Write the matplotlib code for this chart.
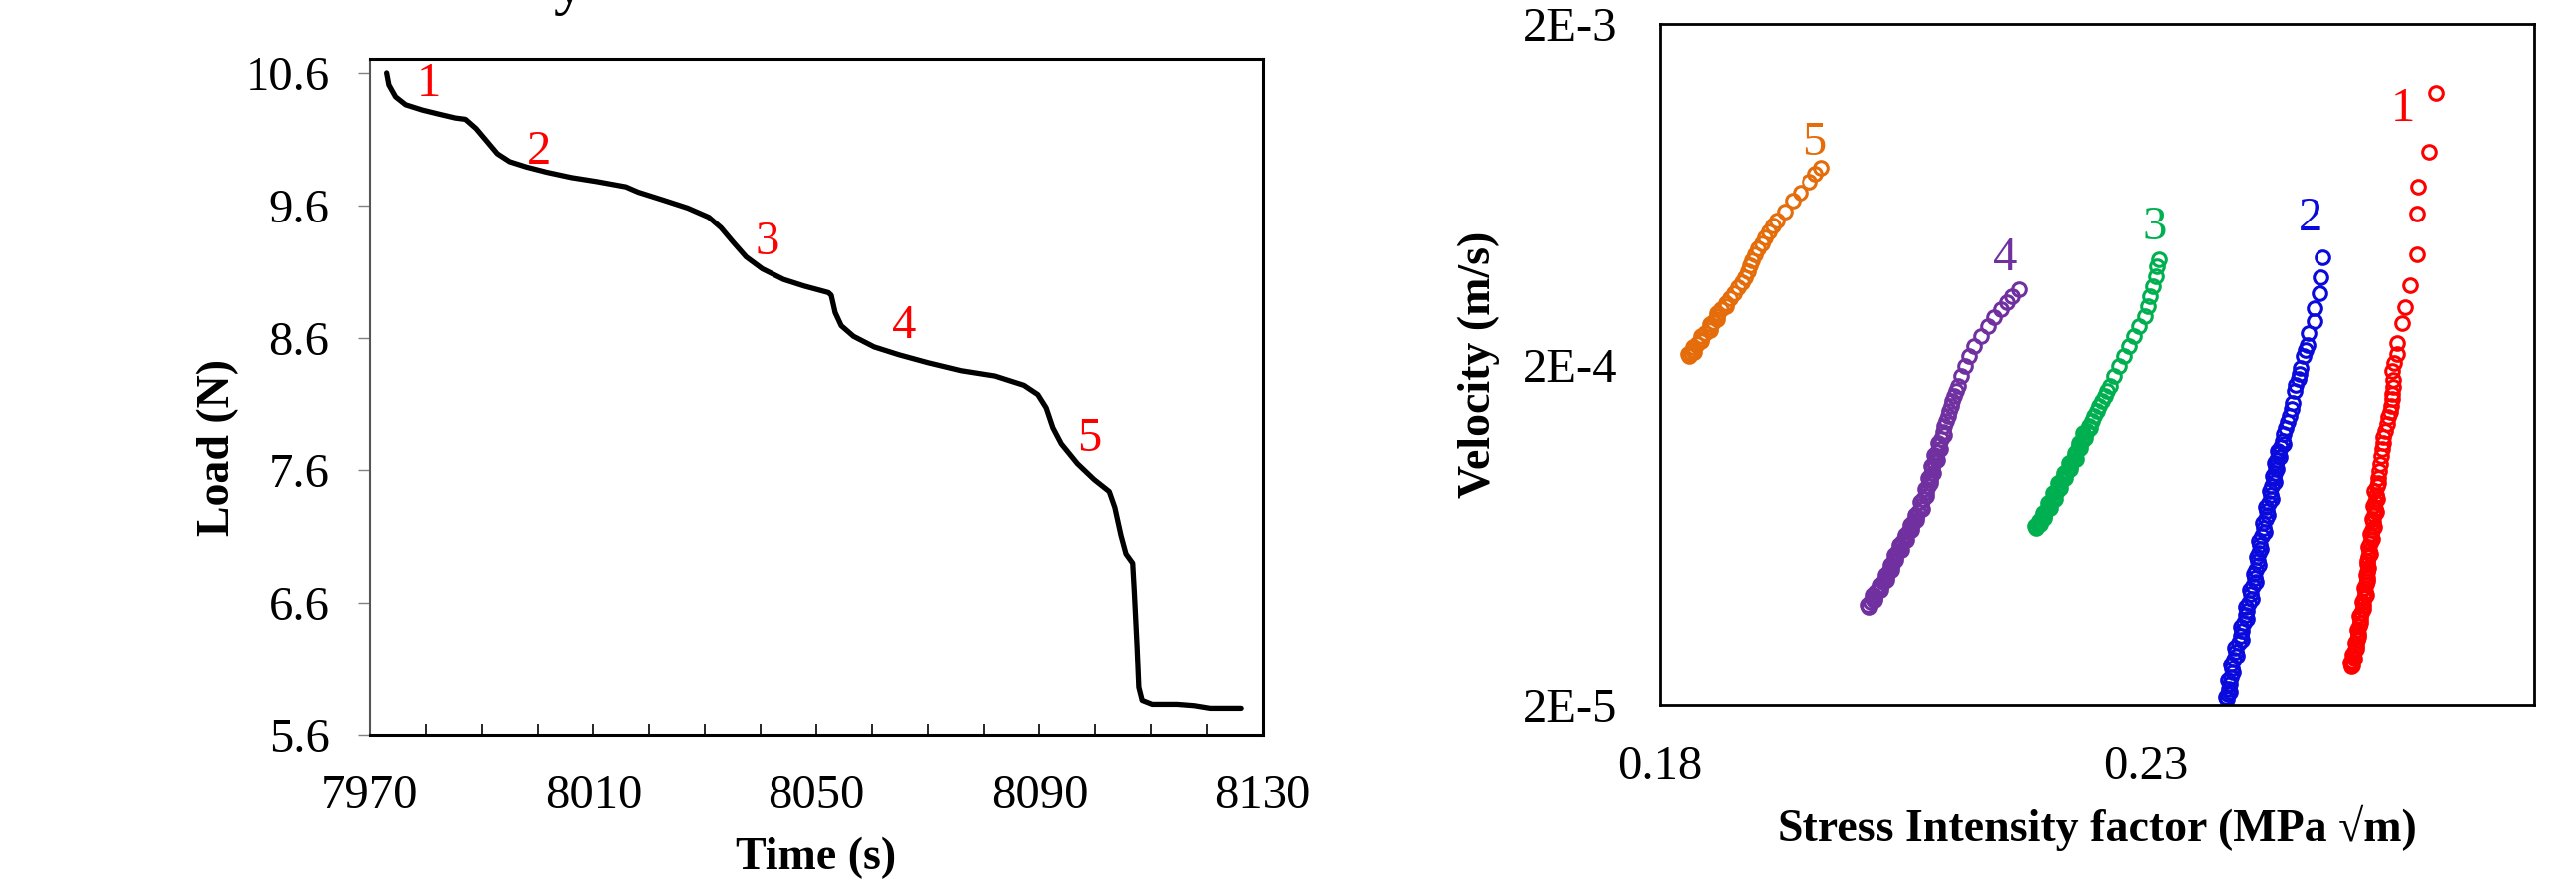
import matplotlib
matplotlib.use("Agg")
import matplotlib.pyplot as plt
from matplotlib.ticker import FixedLocator, MultipleLocator, NullLocator

plt.rcParams['font.family'] = ['Liberation Serif', 'DejaVu Serif']

# ---- left panel: load vs time
time_s = [7973.0, 7973.4, 7974.6, 7976.4, 7979.4, 7982.3, 7985.3, 7987.1, 7989.0,
          7991.0, 7992.8, 7995.0, 7998.0, 8001.7, 8006.1, 8010.6, 8015.8, 8018.0,
          8022.5, 8026.9, 8030.7, 8032.9, 8035.1, 8037.4, 8040.3, 8044.1, 8047.8,
          8052.2, 8052.7, 8053.4, 8054.5, 8056.7, 8060.4, 8064.9, 8070.1, 8076.0,
          8082.0, 8087.2, 8089.7, 8091.2, 8092.4, 8093.9, 8096.8, 8099.8, 8102.5,
          8103.5, 8104.6, 8105.5, 8106.7, 8107.0, 8107.5, 8107.8, 8108.4, 8110.2,
          8114.7, 8117.7, 8120.6, 8126.1]
load_n = [10.60, 10.51, 10.42, 10.36, 10.32, 10.29, 10.26, 10.25, 10.18,
          10.08, 9.99, 9.93, 9.89, 9.85, 9.81, 9.78, 9.74, 9.70,
          9.64, 9.58, 9.51, 9.43, 9.32, 9.21, 9.12, 9.04, 8.99,
          8.94, 8.92, 8.79, 8.69, 8.61, 8.53, 8.47, 8.41, 8.35,
          8.31, 8.24, 8.17, 8.07, 7.92, 7.80, 7.65, 7.53, 7.44,
          7.32, 7.11, 6.97, 6.90, 6.68, 6.26, 5.96, 5.86, 5.83,
          5.83, 5.82, 5.80, 5.80]
load_ticks = [5.6, 6.6, 7.6, 8.6, 9.6, 10.6]
time_ticks = [7970, 8010, 8050, 8090, 8130]

# ---- right panel: velocity vs stress intensity factor, five stages
k1 = [0.2599, 0.2592, 0.2581, 0.2580, 0.2580, 0.2573, 0.2568, 0.2564, 0.2559, 0.2559,
      0.2556, 0.2554, 0.2555, 0.2555, 0.2554, 0.2554, 0.2553, 0.2552, 0.2550, 0.2549,
      0.2547, 0.2545, 0.2545, 0.2544, 0.2543, 0.2542, 0.2541, 0.2540, 0.2539, 0.2538,
      0.2537, 0.2537, 0.2536, 0.2535, 0.2534, 0.2533, 0.2532, 0.2531, 0.2530, 0.2529,
      0.2529, 0.2528, 0.2527, 0.2526, 0.2525, 0.2524, 0.2522, 0.2521, 0.2520, 0.2519,
      0.2518, 0.2517, 0.2515, 0.2514, 0.2513, 0.2512, 0.2512]
v1 = [1.26e-3, 8.43e-4, 6.65e-4, 5.57e-4, 4.21e-4, 3.42e-4, 2.94e-4, 2.65e-4, 2.31e-4, 2.14e-4,
      2.02e-4, 1.92e-4, 1.80e-4, 1.72e-4, 1.64e-4, 1.58e-4, 1.51e-4, 1.455e-4, 1.40e-4, 1.34e-4,
      1.28e-4, 1.23e-4, 1.18e-4, 1.13e-4, 1.08e-4, 1.026e-4, 9.75e-5, 9.29e-5, 8.80e-5, 8.32e-5,
      7.90e-5, 7.55e-5, 7.23e-5, 6.90e-5, 6.55e-5, 6.28e-5, 6.00e-5, 5.70e-5, 5.46e-5, 5.20e-5,
      4.95e-5, 4.75e-5, 4.55e-5, 4.32e-5, 4.13e-5, 3.95e-5, 3.75e-5, 3.59e-5, 3.42e-5, 3.26e-5,
      3.12e-5, 3.00e-5, 2.88e-5, 2.79e-5, 2.70e-5, 2.64e-5, 2.60e-5]
# more readings from the crowded lower part of stage 1
k1_low = [0.2540, 0.2536, 0.2539, 0.2535, 0.2538, 0.2534, 0.2536, 0.2532, 0.2534, 0.2530,
          0.2532, 0.2528, 0.2530, 0.2527, 0.2529, 0.2525, 0.2527, 0.2523, 0.2524, 0.2520,
          0.2521, 0.2518, 0.2519, 0.2516, 0.2517, 0.2513, 0.2515, 0.2511, 0.2513]
v1_low = [9.0e-5, 8.55e-5, 8.05e-5, 7.7e-5, 7.4e-5, 7.05e-5, 6.7e-5, 6.4e-5, 6.15e-5, 5.85e-5,
          5.58e-5, 5.33e-5, 5.08e-5, 4.85e-5, 4.65e-5, 4.43e-5, 4.22e-5, 4.04e-5, 3.85e-5, 3.67e-5,
          3.50e-5, 3.34e-5, 3.19e-5, 3.06e-5, 2.94e-5, 2.83e-5, 2.75e-5, 2.67e-5, 2.62e-5]

k2 = [0.2482, 0.2480, 0.2479, 0.2474, 0.2474, 0.2468, 0.2467, 0.2465, 0.2463, 0.2460,
      0.2459, 0.2458, 0.2455, 0.2453, 0.2451, 0.2450, 0.2448, 0.2446, 0.2444, 0.2442,
      0.2441, 0.2439, 0.2437, 0.2435, 0.2434, 0.2433, 0.2432, 0.2430, 0.2429, 0.2427,
      0.2425, 0.2424, 0.2422, 0.2420, 0.2418, 0.2417, 0.2415, 0.2413, 0.2412, 0.2410,
      0.2408, 0.2406, 0.2404, 0.2403, 0.2401, 0.2399, 0.2398, 0.2396, 0.2393, 0.2391,
      0.2389, 0.2388, 0.2387, 0.2386, 0.2385, 0.2384]
v2 = [4.13e-4, 3.61e-4, 3.23e-4, 2.93e-4, 2.69e-4, 2.47e-4, 2.28e-4, 2.20e-4, 2.12e-4, 1.95e-4,
      1.88e-4, 1.82e-4, 1.74e-4, 1.67e-4, 1.54e-4, 1.48e-4, 1.415e-4, 1.36e-4, 1.30e-4, 1.25e-4,
      1.196e-4, 1.15e-4, 1.10e-4, 1.05e-4, 1.01e-4, 9.65e-5, 9.29e-5, 8.80e-5, 8.32e-5, 7.85e-5,
      7.43e-5, 7.05e-5, 6.65e-5, 6.28e-5, 5.94e-5, 5.62e-5, 5.31e-5, 5.02e-5, 4.75e-5, 4.50e-5,
      4.25e-5, 4.00e-5, 3.80e-5, 3.69e-5, 3.50e-5, 3.32e-5, 3.21e-5, 3.05e-5, 2.87e-5, 2.72e-5,
      2.57e-5, 2.42e-5, 2.30e-5, 2.23e-5, 2.15e-5, 2.08e-5]
k2_low = [0.2442, 0.2436, 0.2438, 0.2433, 0.2435, 0.2431, 0.2433, 0.2428, 0.2430, 0.2424,
          0.2426, 0.2421, 0.2423, 0.2417, 0.2419, 0.2414, 0.2416, 0.2411, 0.2413, 0.2407,
          0.2409, 0.2403, 0.2404, 0.2398, 0.2399, 0.2392, 0.2394, 0.2388, 0.2390, 0.2385,
          0.2387, 0.2383]
v2_low = [1.17e-4, 1.12e-4, 1.07e-4, 1.03e-4, 9.9e-5, 9.45e-5, 9.05e-5, 8.55e-5, 8.1e-5, 7.65e-5,
          7.25e-5, 6.85e-5, 6.45e-5, 6.1e-5, 5.78e-5, 5.46e-5, 5.16e-5, 4.88e-5, 4.62e-5, 4.38e-5,
          4.12e-5, 3.90e-5, 3.60e-5, 3.40e-5, 3.13e-5, 2.96e-5, 2.80e-5, 2.64e-5, 2.50e-5, 2.36e-5,
          2.19e-5, 2.11e-5]

k3 = [0.2314, 0.2312, 0.2311, 0.2308, 0.2305, 0.2302, 0.2299, 0.2293, 0.2288, 0.2283,
      0.2278, 0.2273, 0.2268, 0.2263, 0.2260, 0.2258, 0.2255, 0.2252, 0.2250, 0.2247,
      0.2245, 0.2242, 0.2240, 0.2237, 0.2235, 0.2232, 0.2230, 0.2227, 0.2224, 0.2222,
      0.2219, 0.2216, 0.2214, 0.2211, 0.2209, 0.2206, 0.2204, 0.2201, 0.2198, 0.2196,
      0.2193, 0.2191, 0.2189, 0.2187]
v3 = [4.07e-4, 3.89e-4, 3.64e-4, 3.40e-4, 3.18e-4, 2.97e-4, 2.78e-4, 2.60e-4, 2.43e-4, 2.27e-4,
      2.12e-4, 1.98e-4, 1.85e-4, 1.73e-4, 1.67e-4, 1.62e-4, 1.56e-4, 1.515e-4, 1.46e-4, 1.416e-4,
      1.37e-4, 1.32e-4, 1.28e-4, 1.237e-4, 1.195e-4, 1.156e-4, 1.12e-4, 1.08e-4, 1.045e-4, 1.01e-4,
      9.75e-5, 9.45e-5, 9.15e-5, 8.83e-5, 8.55e-5, 8.25e-5, 7.98e-5, 7.72e-5, 7.45e-5, 7.21e-5,
      7.05e-5, 6.90e-5, 6.78e-5, 6.65e-5]
k3_low = [0.2243, 0.2236, 0.2238, 0.2232, 0.2233, 0.2227, 0.2228, 0.2221, 0.2222, 0.2216,
          0.2217, 0.2210, 0.2212, 0.2205, 0.2207, 0.2200, 0.2202, 0.2195, 0.2196, 0.2190,
          0.2192, 0.2186]
v3_low = [1.30e-4, 1.26e-4, 1.22e-4, 1.175e-4, 1.14e-4, 1.10e-4, 1.06e-4, 1.03e-4, 9.9e-5, 9.6e-5,
          9.3e-5, 9.0e-5, 8.7e-5, 8.4e-5, 8.1e-5, 7.85e-5, 7.58e-5, 7.33e-5, 7.12e-5, 6.98e-5,
          6.84e-5, 6.72e-5]

k4 = [0.2170, 0.2163, 0.2158, 0.2151, 0.2144, 0.2138, 0.2131, 0.2124, 0.2119, 0.2114,
      0.2110, 0.2107, 0.2105, 0.2103, 0.2101, 0.2100, 0.2098, 0.2097, 0.2095, 0.2093,
      0.2092, 0.2090, 0.2088, 0.2086, 0.2085, 0.2083, 0.2081, 0.2079, 0.2078, 0.2076,
      0.2074, 0.2071, 0.2069, 0.2066, 0.2064, 0.2061, 0.2059, 0.2056, 0.2053, 0.2050,
      0.2048, 0.2045, 0.2043, 0.2040, 0.2038, 0.2035, 0.2033, 0.2030, 0.2027, 0.2023,
      0.2021, 0.2018, 0.2016]
v4 = [3.33e-4, 3.18e-4, 3.04e-4, 2.91e-4, 2.75e-4, 2.60e-4, 2.43e-4, 2.27e-4, 2.12e-4, 1.98e-4,
      1.85e-4, 1.73e-4, 1.67e-4, 1.62e-4, 1.56e-4, 1.515e-4, 1.46e-4, 1.416e-4, 1.37e-4, 1.32e-4,
      1.27e-4, 1.21e-4, 1.16e-4, 1.106e-4, 1.07e-4, 1.034e-4, 9.90e-5, 9.45e-5, 9.15e-5, 8.83e-5,
      8.45e-5, 8.07e-5, 7.70e-5, 7.38e-5, 7.15e-5, 6.90e-5, 6.68e-5, 6.45e-5, 6.24e-5, 6.03e-5,
      5.84e-5, 5.64e-5, 5.45e-5, 5.27e-5, 5.10e-5, 4.93e-5, 4.77e-5, 4.60e-5, 4.45e-5, 4.30e-5,
      4.15e-5, 4.02e-5, 3.89e-5]
k4_low = [0.2093, 0.2087, 0.2089, 0.2083, 0.2086, 0.2080, 0.2082, 0.2076, 0.2079, 0.2073,
          0.2074, 0.2068, 0.2070, 0.2063, 0.2064, 0.2058, 0.2059, 0.2053, 0.2054, 0.2047,
          0.2049, 0.2042, 0.2043, 0.2037, 0.2038, 0.2032, 0.2033, 0.2027, 0.2027, 0.2020,
          0.2021, 0.2015]
v4_low = [1.24e-4, 1.18e-4, 1.13e-4, 1.085e-4, 1.05e-4, 1.01e-4, 9.65e-5, 9.30e-5, 9.0e-5, 8.65e-5,
          8.25e-5, 7.9e-5, 7.55e-5, 7.25e-5, 7.02e-5, 6.78e-5, 6.56e-5, 6.34e-5, 6.13e-5, 5.93e-5,
          5.74e-5, 5.55e-5, 5.36e-5, 5.18e-5, 5.01e-5, 4.85e-5, 4.68e-5, 4.52e-5, 4.38e-5, 4.22e-5,
          4.08e-5, 3.95e-5]

k5 = [0.1966, 0.1960, 0.1954, 0.1945, 0.1937, 0.1929, 0.1920, 0.1916, 0.1912, 0.1908,
      0.1905, 0.1901, 0.1898, 0.1895, 0.1893, 0.1890, 0.1887, 0.1884, 0.1880, 0.1876,
      0.1872, 0.1868, 0.1863, 0.1859, 0.1855, 0.1851, 0.1846, 0.1842, 0.1838, 0.1834,
      0.1832, 0.1830]
v5 = [7.57e-4, 7.26e-4, 6.88e-4, 6.42e-4, 6.07e-4, 5.62e-4, 5.31e-4, 5.12e-4, 4.92e-4, 4.72e-4,
      4.55e-4, 4.38e-4, 4.22e-4, 4.06e-4, 3.91e-4, 3.76e-4, 3.62e-4, 3.50e-4, 3.38e-4, 3.25e-4,
      3.13e-4, 3.02e-4, 2.90e-4, 2.78e-4, 2.67e-4, 2.57e-4, 2.47e-4, 2.38e-4, 2.29e-4, 2.20e-4,
      2.16e-4, 2.12e-4]
k5_low = [0.1868, 0.1859, 0.1859, 0.1851, 0.1851, 0.1842, 0.1842, 0.1834, 0.1835, 0.1829]
v5_low = [2.96e-4, 2.84e-4, 2.72e-4, 2.62e-4, 2.52e-4, 2.43e-4, 2.34e-4, 2.25e-4, 2.18e-4, 2.14e-4]

stage_names = ['1', '2', '3', '4', '5']
stage_colors = ['#FF0000', '#0A0ADC', '#00B050', '#7030A0', '#E46C0A']
vel_ticks = [2e-5, 2e-4, 2e-3]
vel_ticklabels = ['2E-5', '2E-4', '2E-3']
sif_ticks = [0.18, 0.23]

TICK_FS = 35
LABEL_FS = 33

fig = plt.figure(figsize=(25.81, 8.86), dpi=100)

# Left: load curve
ax1 = fig.add_axes([0.1437, 0.1682, 0.3464, 0.7652])
ax1.plot(time_s, load_n, color='black', lw=3.8, solid_capstyle='round')
ax1.set_xlim(7970, 8130)
ax1.set_ylim(5.6, 10.705)
ax1.xaxis.set_major_locator(FixedLocator(time_ticks))
ax1.xaxis.set_minor_locator(MultipleLocator(10))
ax1.yaxis.set_major_locator(FixedLocator(load_ticks))
ax1.set_yticklabels([f'{v:.1f}' for v in load_ticks])
ax1.tick_params(axis='x', which='both', direction='in', length=8, width=1.2,
                color='black', labelsize=TICK_FS, pad=28)
ax1.tick_params(axis='y', direction='out', length=9, width=1, color='#808080',
                labelsize=TICK_FS, pad=20)
for side in ['top', 'right', 'bottom']:
    ax1.spines[side].set_linewidth(2.2)
    ax1.spines[side].set_color('black')
ax1.spines['left'].set_linewidth(1.5)
ax1.spines['left'].set_color('#555555')
ax1.set_xlabel('Time (s)', fontsize=LABEL_FS, fontweight='bold')
ax1.set_ylabel('Load (N)', fontsize=LABEL_FS, fontweight='bold')
ax1.xaxis.set_label_coords(0.5, -0.150)
ax1.yaxis.set_label_coords(-0.148, 0.426)

# stage numbers on the load curve
left_marks = [(7980.5, 10.427), (8000.2, 9.916), (8041.2, 9.227),
              (8065.8, 8.597), (8098.9, 7.746)]
for name, (tx, ty) in zip(stage_names, left_marks):
    ax1.text(tx, ty, name, color='#FF0000', fontsize=TICK_FS,
             ha='center', va='baseline')

# Right: V-K curves
ax2 = fig.add_axes([0.6443, 0.2020, 0.3394, 0.7709])
stages_k = [k1 + k1_low, k2 + k2_low, k3 + k3_low, k4 + k4_low, k5 + k5_low]
stages_v = [v1 + v1_low, v2 + v2_low, v3 + v3_low, v4 + v4_low, v5 + v5_low]
for kk, vv, col in zip(stages_k, stages_v, stage_colors):
    ax2.plot(kk, vv, 'o', mfc='none', mec=col, ms=9.8, mew=2.2)
ax2.set_yscale('log')
ax2.set_xlim(0.18, 0.27)
ax2.set_ylim(2e-5, 2e-3)
ax2.yaxis.set_major_locator(FixedLocator(vel_ticks))
ax2.yaxis.set_minor_locator(NullLocator())
ax2.set_yticklabels(vel_ticklabels)
ax2.xaxis.set_major_locator(FixedLocator(sif_ticks))
ax2.set_xticklabels([f'{v:.2f}' for v in sif_ticks])
ax2.tick_params(axis='x', length=0, labelsize=TICK_FS, pad=29)
ax2.tick_params(axis='y', length=0, labelsize=TICK_FS, pad=31)
for side in ax2.spines:
    ax2.spines[side].set_linewidth(2.0)
    ax2.spines[side].set_color('black')
ax2.set_xlabel('Stress Intensity factor (MPa \u221am)', fontsize=LABEL_FS, fontweight='bold')
ax2.set_ylabel('Velocity (m/s)', fontsize=LABEL_FS, fontweight='bold')
ax2.xaxis.set_label_coords(0.5, -0.146)
ax2.yaxis.set_label_coords(-0.183, 0.50)

right_marks = [(0.2565, 1.04e-3), (0.2470, 4.95e-4), (0.2309, 4.66e-4),
               (0.2156, 3.78e-4), (0.1959, 8.27e-4)]
for name, (tx, ty), col in zip(stage_names, right_marks, stage_colors):
    ax2.text(tx, ty, name, color=col, fontsize=TICK_FS, ha='center', va='baseline')

# tail of a cropped heading at the very top
fig.text(0.2205, 1 - 3 / 886, 'y', fontsize=44, ha='center', va='baseline')

fig.savefig('out.png', dpi=100)
